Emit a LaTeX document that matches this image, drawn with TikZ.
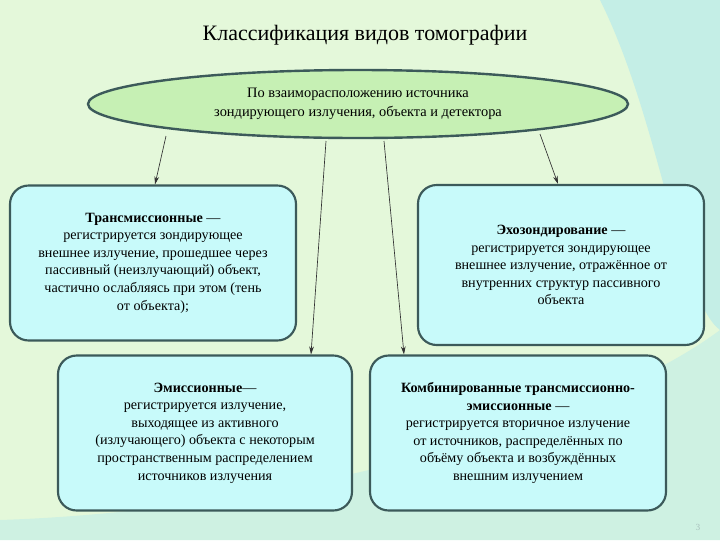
\documentclass[tikz,border=0pt]{standalone}
\usepackage{fontspec}
\setmainfont{Liberation Serif}
\usetikzlibrary{shapes.geometric,arrows.meta}
\definecolor{bgg}{HTML}{E4F8DA}
\definecolor{bgc}{HTML}{C4EEE6}
\definecolor{ellf}{HTML}{C6F0B4}
\definecolor{boxf}{HTML}{C8FAFA}
\definecolor{edge}{HTML}{3C5A5A}
\tikzset{
  card/.style={draw=edge, line width=1.6pt, fill=boxf, rounded corners=14pt, align=center, font=\fontsize{10.6}{13.2}\selectfont, inner sep=0pt},
  conn/.style={draw=black!80, line width=0.5pt, -{Stealth[length=6pt,width=3.5pt]}}
}
\begin{document}
\begin{tikzpicture}[x=0.75pt,y=-0.75pt]
\useasboundingbox (0,0) rectangle (720,540);
\fill[bgg] (0,0) rectangle (720,540);
\fill[bgc] (600,0) .. controls (660,120) and (680,300) .. (720,330) -- (720,0) -- cycle;
\fill[bgc!70!bgg] (0,520) .. controls (300,510) and (600,420) .. (720,330) -- (720,540) -- (0,540) -- cycle;
\node (title) at (365,35) {\fontsize{16.5}{20}\selectfont Классификация видов томографии};
\node[ellipse, draw=edge, line width=1.8pt, fill=ellf, minimum width=540*0.75pt, minimum height=68*0.75pt, align=center, font=\fontsize{10.8}{14}\selectfont, inner sep=0pt] (ell) at (358,104) {По взаиморасположению источника\\зондирующего излучения, объекта и детектора};
\node[card, minimum width=286*0.75pt, minimum height=155*0.75pt] (b1) at (153,263) {\textbf{Трансмиссионные} —\\регистрируется зондирующее\\внешнее излучение, прошедшее через\\пассивный (неизлучающий) объект,\\частично ослабляясь при этом (тень\\от объекта);};
\node[card, minimum width=286*0.75pt, minimum height=160*0.75pt] (b2) at (561,265) {\textbf{Эхозондирование} —\\регистрируется зондирующее\\внешнее излучение, отражённое от\\внутренних структур пассивного\\объекта};
\node[card, minimum width=294*0.75pt, minimum height=155*0.75pt] (b3) at (205,433) {\textbf{Эмиссионные}—\\регистрируется излучение,\\выходящее из активного\\(излучающего) объекта с некоторым\\пространственным распределением\\источников излучения};
\node[card, minimum width=296*0.75pt, minimum height=155*0.75pt] (b4) at (518,433) {\textbf{Комбинированные трансмиссионно-}\\\textbf{эмиссионные} —\\регистрируется вторичное излучение\\от источников, распределённых по\\объёму объекта и возбуждённых\\внешним излучением};
\coordinate (s1) at (166,136);
\coordinate (s2) at (326,141);
\coordinate (s3) at (384,141);
\coordinate (s4) at (540,134);
\draw[conn] (s1) -- (b1.north -| 155,0);
\draw[conn] (s2) -- (b3.north -| 311,0);
\draw[conn] (s3) -- (b4.north -| 404,0);
\draw[conn] (s4) -- (b2.north -| 558,0);
\node[text=bgc!60!gray, font=\fontsize{7}{8}\selectfont] (pg) at (698,527) {3};
\end{tikzpicture}
\end{document}
